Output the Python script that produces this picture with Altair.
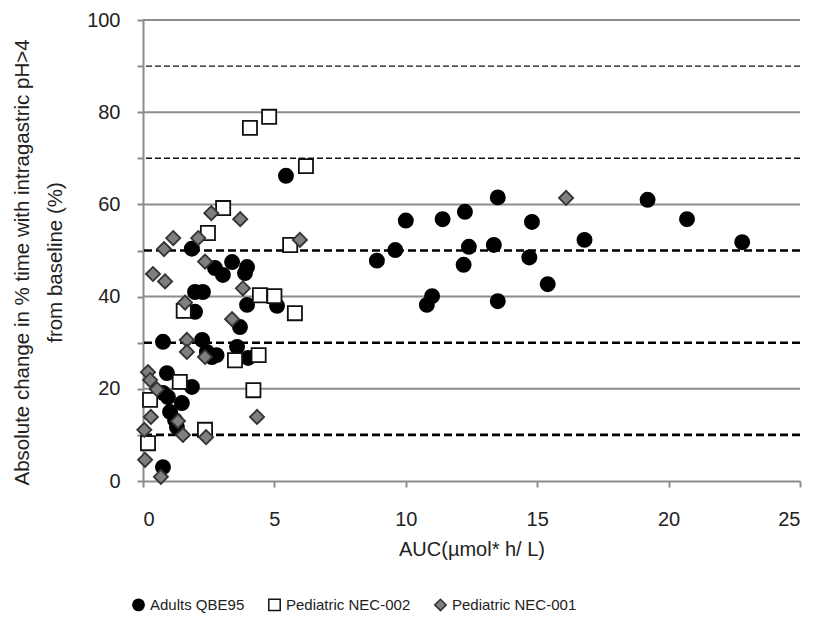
import altair as alt
import pandas as pd

# ---- data ----
series_names = ["Adults QBE95", "Pediatric NEC-002", "Pediatric NEC-001"]

adults_x = [1.86, 2.74, 3.04, 3.39, 3.96, 3.88, 1.98, 2.28, 3.96, 5.10, 1.98, 3.69,
            0.76, 2.25, 2.43, 2.80, 2.62, 3.58, 4.00, 0.91, 1.86, 0.76, 0.95, 1.48,
            1.03, 1.22, 1.29, 0.76, 5.44,
            8.9, 9.6, 10.0, 10.8, 11.0, 11.4, 12.2, 12.25, 12.4, 13.35, 13.5, 13.5,
            14.7, 14.8, 15.4, 16.8, 19.2, 20.7, 22.8]
adults_y = [50.4, 46.2, 44.7, 47.5, 46.4, 45.1, 41.0, 41.0, 38.2, 38.0, 36.7, 33.4,
            30.2, 30.6, 28.0, 27.3, 26.9, 29.1, 26.7, 23.4, 20.4, 19.1, 18.2, 16.9,
            15.0, 13.2, 11.7, 3.0, 66.2,
            47.8, 50.1, 56.5, 38.2, 40.1, 56.8, 46.9, 58.4, 50.8, 51.2, 61.5, 39.0,
            48.5, 56.2, 42.7, 52.3, 61.0, 56.8, 51.8]

nec002_x = [4.07, 4.80, 6.20, 3.05, 2.47, 5.60, 4.45, 5.00, 5.78, 1.55, 3.50, 4.40,
            1.40, 4.20, 0.27, 2.36, 0.19]
nec002_y = [76.6, 79.0, 68.3, 59.2, 53.8, 51.2, 40.3, 40.1, 36.4, 36.9, 26.2, 27.3,
            21.5, 19.7, 17.6, 11.1, 8.2]

nec001_x = [2.60, 3.70, 1.15, 2.10, 0.80, 5.97, 2.36, 0.38, 0.84, 3.80, 1.60, 3.39,
            1.67, 1.67, 2.36, 0.19, 0.27, 0.53, 0.30, 1.33, 4.34, 0.05, 1.52, 2.40,
            0.08, 0.68, 16.1]
nec001_y = [58.1, 56.8, 52.7, 52.7, 50.3, 52.3, 47.6, 44.9, 43.3, 41.8, 38.7, 35.1,
            30.6, 28.0, 26.9, 23.6, 21.9, 19.9, 13.9, 13.0, 13.9, 11.1, 10.0, 9.5,
            4.6, 0.9, 61.4]

x_ticks = [0, 5, 10, 15, 20, 25]
y_ticks = [0, 10, 20, 30, 40, 50, 60, 70, 80, 90, 100]
solid_levels = [20, 40, 60, 80, 100]
dashed_major = [10, 30, 50]
dashed_minor = [70, 90]

# ---- build tables ----
df = pd.concat([
    pd.DataFrame({"x": adults_x, "y": adults_y, "series": series_names[0]}),
    pd.DataFrame({"x": nec002_x, "y": nec002_y, "series": series_names[1]}),
    pd.DataFrame({"x": nec001_x, "y": nec001_y, "series": series_names[2]}),
], ignore_index=True)

FONT = "Liberation Sans"
xscale = alt.Scale(domain=[0, 25], nice=False, zero=False)
yscale = alt.Scale(domain=[0, 100], nice=False, zero=False)

yaxis = alt.Axis(
    values=y_ticks, labelExpr="datum.value % 20 == 0 ? datum.label : ''",
    title=["Absolute change in % time with intragastric pH>4", "from baseline (%)"],
    grid=False, domainColor="#8c8c8c", domainWidth=2, tickColor="#8c8c8c",
    tickWidth=2, tickSize=6, labelPadding=17, labelFontSize=20, labelFont=FONT,
    labelColor="#222222", titleFont=FONT, titleFontSize=20.5,
    titleFontWeight="normal", titleColor="#222222", titleAngle=-90,
    titleAlign="center", titleBaseline="middle", titleX=-121, titleY=242,
    titleLineHeight=33,
)
xaxis = alt.Axis(
    values=x_ticks, title="AUC(µmol* h/ L)", grid=False,
    domainColor="#8c8c8c", domainWidth=2, tickColor="#8c8c8c", tickWidth=2,
    tickSize=6, labelPadding=22, labelFontSize=20, labelFont=FONT,
    labelColor="#222222", titleFont=FONT, titleFontSize=20,
    titleFontWeight="normal", titleColor="#222222",
    titleBaseline="middle", titleY=68,
)

grid_solid = alt.Chart(pd.DataFrame({"y": solid_levels})).mark_rule(
    color="#8c8c8c", strokeWidth=2
).encode(y=alt.Y("y:Q", scale=yscale, axis=yaxis))

grid_dash_major = alt.Chart(pd.DataFrame({"y": dashed_major})).mark_rule(
    color="#000000", strokeWidth=2.6, strokeDash=[8, 4]
).encode(y=alt.Y("y:Q", scale=yscale, axis=yaxis))

grid_dash_minor = alt.Chart(pd.DataFrame({"y": dashed_minor})).mark_rule(
    color="#111111", strokeWidth=1.4, strokeDash=[6, 3]
).encode(y=alt.Y("y:Q", scale=yscale, axis=yaxis))

leg = alt.Legend(
    title=None, orient="none", legendX=-12, legendY=577, direction="horizontal",
    symbolSize=130, labelFontSize=15, labelFont=FONT, labelColor="#222222",
    columnPadding=20, labelOffset=4,
)

points = alt.Chart(df).mark_point(filled=False, opacity=1, size=200, strokeWidth=1.8).encode(
    x=alt.X("x:Q", scale=xscale, axis=xaxis),
    y=alt.Y("y:Q", scale=yscale, axis=yaxis),
    shape=alt.Shape("series:N", scale=alt.Scale(domain=series_names,
                    range=["circle", "square", "diamond"]), legend=leg),
    fill=alt.Fill("series:N", scale=alt.Scale(domain=series_names,
                  range=["#000000", "#ffffff", "#7f7f7f"]), legend=leg),
    stroke=alt.Stroke("series:N", scale=alt.Scale(domain=series_names,
                      range=["#000000", "#111111", "#333333"]), legend=leg),
)

chart = alt.layer(grid_solid, grid_dash_minor, grid_dash_major, points).properties(
    width=657, height=461,
    autosize=alt.AutoSizeParams(type="none"),
    padding={"left": 135, "top": 12, "right": 11, "bottom": 150},
    background="#ffffff",
).configure_view(stroke=None)

chart.save("out.html", embed_options={"renderer": "svg", "actions": False})
